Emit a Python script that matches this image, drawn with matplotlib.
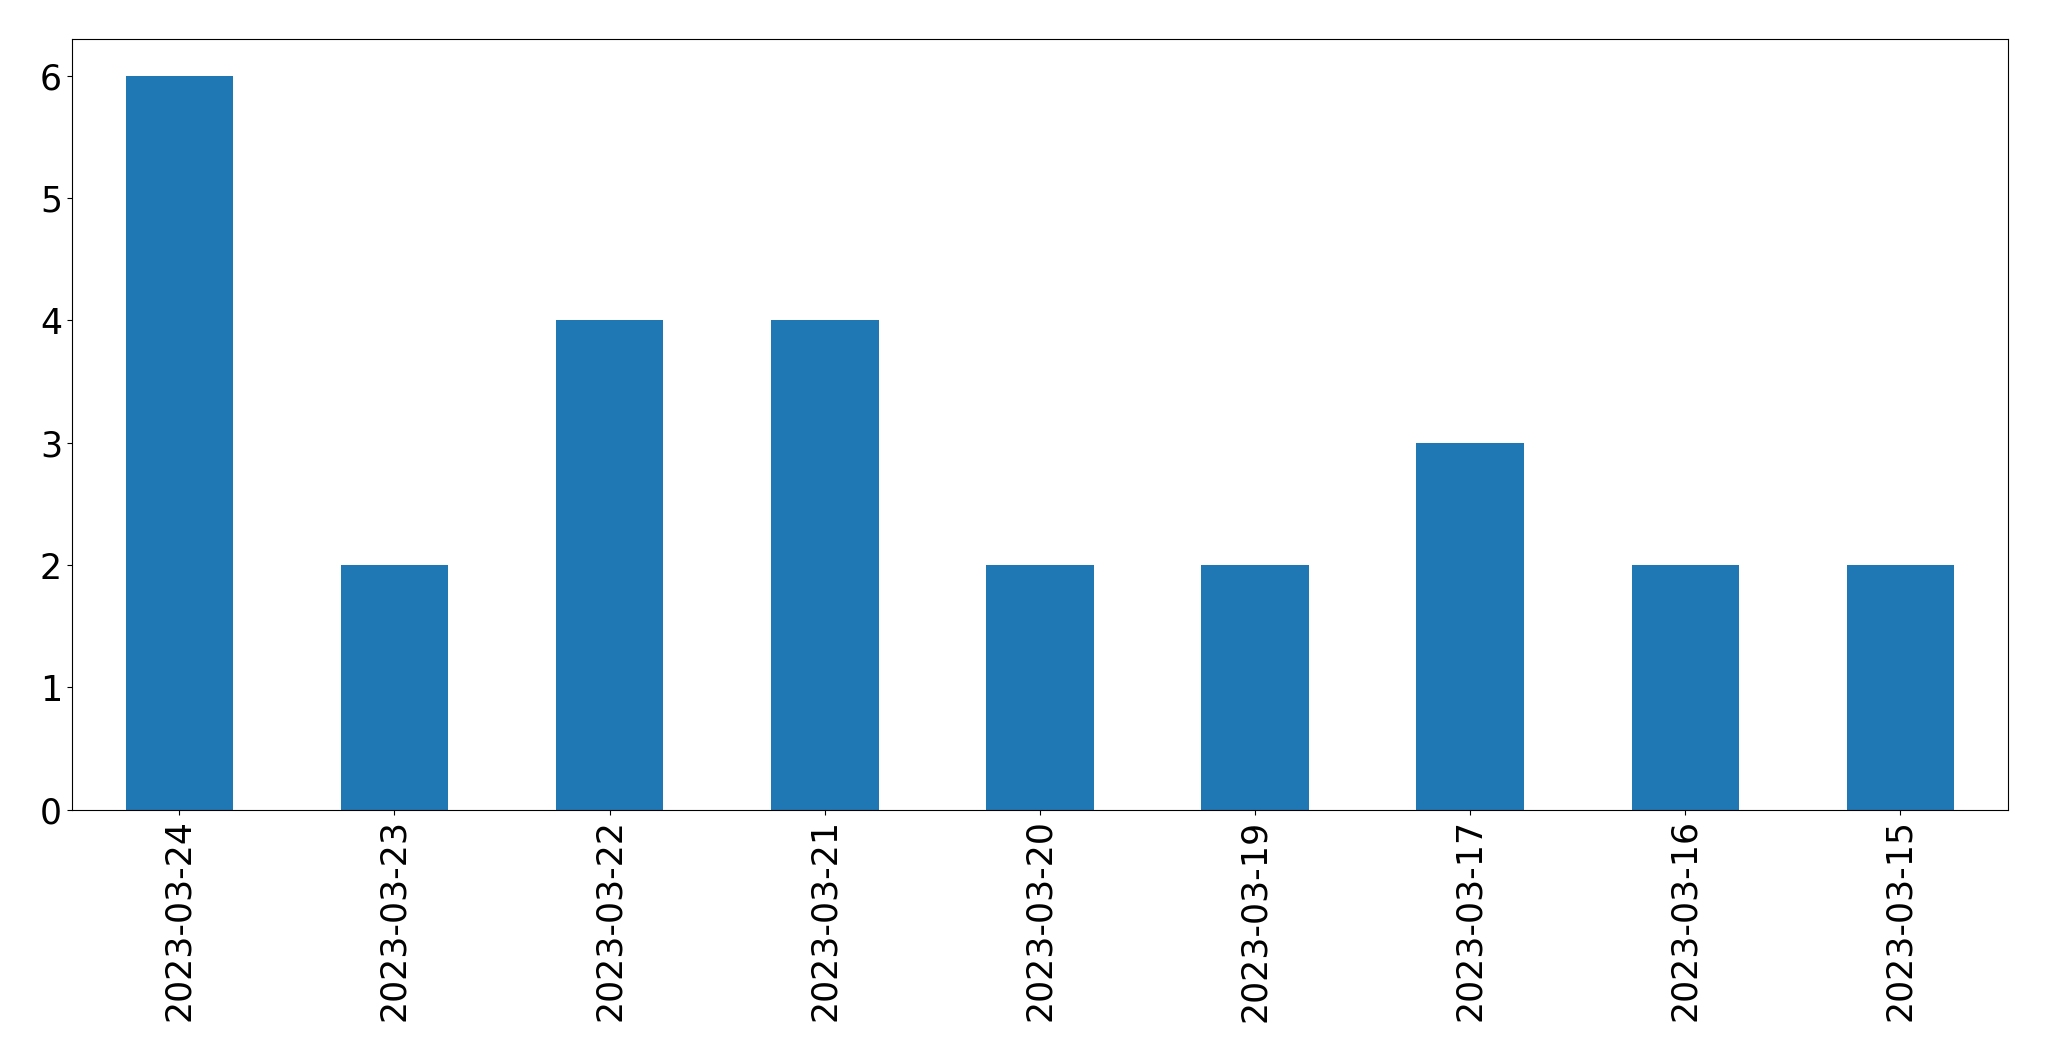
import numpy as np
import pandas as pd
import matplotlib
matplotlib.use('Agg')
import matplotlib.pyplot as plt

dates = ['2023-03-24', '2023-03-23', '2023-03-22', '2023-03-21', '2023-03-20',
         '2023-03-19', '2023-03-17', '2023-03-16', '2023-03-15']
counts = [6, 2, 4, 4, 2, 2, 3, 2, 2]

s = pd.Series(counts, index=dates)

fig, ax = plt.subplots(figsize=(20.49, 10.61), dpi=100)
s.plot(kind='bar', ax=ax, fontsize=25)
ax.tick_params(axis='both', labelsize=25)
plt.subplots_adjust(left=0.035, right=0.98, top=0.963, bottom=0.237)
fig.savefig('out.png', dpi=100)
